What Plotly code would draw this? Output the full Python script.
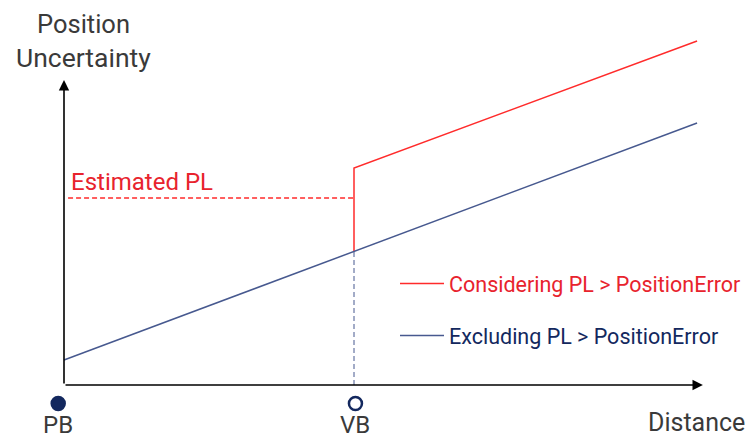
import plotly.graph_objects as go

# ---- data (distance units: VB = 10; uncertainty units) ----
red_x = [10, 10, 21.83]
red_y = [13.4, 21.7, 34.4]
blue_x = [0, 21.83]
blue_y = [2.5, 26.2]
pl_x = [0.14, 10]
pl_y = [18.7, 18.7]
vb_drop_x = [10, 10]
vb_drop_y = [0, 13.4]
point_labels = ["PB", "VB"]
point_x = [-0.2, 10.05]
point_y = [-1.85, -1.85]
series_names = ["Considering PL > PositionError", "Excluding PL > PositionError"]

RED = "#ff2b2b"
RED_TXT = "#e8232d"
BLUE = "#47598f"
NAVY = "#13285e"
GREY = "#3a3a3a"
FONT = "Roboto"

fig = go.Figure()
fig.add_trace(go.Scatter(x=pl_x, y=pl_y, mode="lines", line=dict(color=RED, width=1.3, dash="5px,3px"),
                         showlegend=False, hoverinfo="skip"))
fig.add_trace(go.Scatter(x=vb_drop_x, y=vb_drop_y, mode="lines", line=dict(color=BLUE, width=1, dash="5px,3px"),
                         showlegend=False, hoverinfo="skip"))
fig.add_trace(go.Scatter(x=red_x, y=red_y, mode="lines", line=dict(color=RED, width=1.5),
                         legendgroup="a",
                         name=f"<span style='color:{RED_TXT}'>{series_names[0]}</span>"))
fig.add_trace(go.Scatter(x=blue_x, y=blue_y, mode="lines", line=dict(color=BLUE, width=1.5),
                         legendgroup="b",
                         name=f"<span style='color:{NAVY}'>{series_names[1]}</span>"))
fig.add_trace(go.Scatter(x=point_x, y=point_y, mode="markers", showlegend=False, hoverinfo="skip",
                         cliponaxis=False,
                         marker=dict(size=13, color=[NAVY, "white"], line=dict(color=NAVY, width=2.5))))

# axes with arrowheads
fig.add_annotation(x=0, y=30.5, ax=0, ay=0, xref="x", yref="y", axref="x", ayref="y",
                   showarrow=True, arrowhead=2, arrowsize=1.3, arrowwidth=1.6, arrowcolor="black", text="")
fig.add_annotation(x=22.03, y=0, ax=0, ay=0, xref="x", yref="y", axref="x", ayref="y",
                   showarrow=True, arrowhead=2, arrowsize=1.3, arrowwidth=1.6, arrowcolor="black", text="")

def txt(x, y, s, color=GREY, xanchor="center", size=25):
    fig.add_annotation(x=x, y=y, xref="x", yref="y", text=s, showarrow=False, xanchor=xanchor,
                       yanchor="middle", font=dict(family=FONT, size=size, color=color))

txt(0.66, 36.1, "Position", size=25.5)
txt(0.66, 32.8, "Uncertainty", size=26.5)
txt(0.17, 20.35, "Estimated PL", color=RED_TXT, xanchor="left", size=24)
for lx, lab in zip(point_x, point_labels):
    txt(lx, -3.95, lab, size=24)
txt(23.55, -3.7, "Distance", xanchor="right", size=25)

fig.update_layout(
    width=753, height=438,
    margin=dict(l=0, r=0, t=0, b=0),
    plot_bgcolor="white", paper_bgcolor="white",
    xaxis=dict(range=[-64/29, 689/29], visible=False, fixedrange=True),
    yaxis=dict(range=[-5.3, 38.5], visible=False, fixedrange=True),
    font=dict(family=FONT, size=21.5),
    legend=dict(x=395/753, y=1 - 263/438, xanchor="left", yanchor="top", bgcolor="rgba(0,0,0,0)",
                tracegroupgap=21, itemwidth=44, font=dict(family=FONT, size=21.5)),
    showlegend=True,
)
fig.write_html("out.html", post_script="document.body.style.margin='0';",
               config={"displayModeBar": False})
